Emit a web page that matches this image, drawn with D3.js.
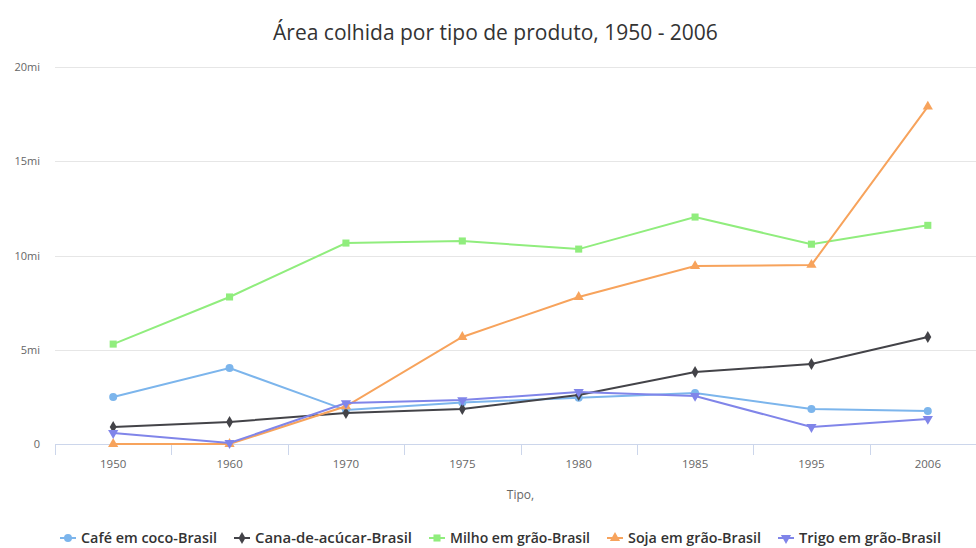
<!DOCTYPE html>
<html><head><meta charset="utf-8">
<script src="https://cdn.jsdelivr.net/npm/d3@7"></script>
<style>body{margin:0;background:#fff}svg{display:block}text{font-family:"Open Sans",sans-serif}</style>
</head><body>
<svg id="c" width="976" height="548"></svg>
<script>
const categories = ["1950","1960","1970","1975","1980","1985","1995","2006"];
const cafe  = [2.49, 4.03, 1.8, 2.2, 2.45, 2.7, 1.86, 1.75];
const cana  = [0.9, 1.17, 1.64, 1.86, 2.6, 3.82, 4.24, 5.68];
const milho = [5.3, 7.8, 10.66, 10.77, 10.34, 12.04, 10.6, 11.6];
const soja  = [0.0, 0.0, 2.0, 5.68, 7.8, 9.44, 9.5, 17.9];
const trigo = [0.58, 0.05, 2.17, 2.33, 2.76, 2.55, 0.9, 1.33];
const seriesNames = ["Café em coco-Brasil","Cana-de-acúcar-Brasil","Milho em grão-Brasil","Soja em grão-Brasil","Trigo em grão-Brasil"];
const yTicks = [0, 5, 10, 15, 20];
const yTickLabels = ["0","5mi","10mi","15mi","20mi"];

const colors = ["#7cb5ec","#434348","#90ed7d","#f7a35c","#8085e9"];
const symbols = [d3.symbolCircle, d3.symbolDiamond, d3.symbolSquare, d3.symbolTriangle, d3.symbolTriangle];
const symSizes = [50, 42, 50, 45, 45];
const rotations = [0,0,0,0,180];
const legendWidths = [136, 157, 140, 133, 142];
const series = [cafe, cana, milho, soja, trigo];

const svg = d3.select("#c");
const pLeft = 55, pRight = 986, pTop = 67, pBottom = 444;
const x = d3.scaleBand().domain(categories).range([pLeft, pRight]);
const y = d3.scaleLinear().domain([0, 20]).range([pBottom, pTop]);

svg.append("text").attr("x", 495.5).attr("y", 40).attr("text-anchor","middle")
  .attr("font-size", 21).attr("fill","#333").text("Área colhida por tipo de produto, 1950 - 2006");

// grid
svg.append("g").selectAll("line").data(yTicks.slice(1)).join("line")
  .attr("x1", pLeft).attr("x2", 976).attr("y1", d=>Math.round(y(d))+0.5).attr("y2", d=>Math.round(y(d))+0.5)
  .attr("stroke","#e6e6e6").attr("stroke-width",1);

svg.append("g").selectAll("text").data(yTicks).join("text")
  .attr("x", 40).attr("y", d=>y(d)+4).attr("text-anchor","end")
  .attr("font-size", 11).attr("fill","#666").text((d,i)=>yTickLabels[i]);

// x axis
const xa = svg.append("g").attr("transform",`translate(0,${pBottom})`)
  .call(d3.axisBottom(x).tickSize(0).tickPadding(16));
xa.select(".domain").attr("stroke","#ccd6eb");
xa.selectAll("text").attr("font-size",11.5).attr("fill","#666").attr("font-family","'Open Sans',sans-serif");
const bounds = categories.map(c=>x(c)).concat([pRight]);
svg.append("g").selectAll("line").data(bounds).join("line")
  .attr("x1",d=>Math.round(d)+0.5).attr("x2",d=>Math.round(d)+0.5).attr("y1",pBottom).attr("y2",pBottom+11)
  .attr("stroke","#ccd6eb");

svg.append("text").attr("x", (pLeft+pRight)/2).attr("y", 499).attr("text-anchor","middle")
  .attr("font-size", 12).attr("fill","#666").text("Tipo,");

const cx = c => x(c) + x.bandwidth()/2;
const line = d3.line().x((d,i)=>cx(categories[i])).y(d=>y(d));
series.forEach((s,k)=>{
  const g = svg.append("g");
  g.append("path").datum(s).attr("d", line).attr("fill","none").attr("stroke",colors[k]).attr("stroke-width",2);
  g.selectAll("path.m").data(s).join("path").attr("class","m")
    .attr("d", d3.symbol().type(symbols[k]).size(symSizes[k]))
    .attr("transform",(d,i)=>`translate(${cx(categories[i])},${y(d)}) rotate(${rotations[k]})`)
    .attr("fill",colors[k]);
});

// legend
const legend = svg.append("g");
let lx = 68;
const ly = 538;
seriesNames.forEach((n,k)=>{
  const g = legend.append("g").attr("transform",`translate(${lx},${ly})`);
  g.append("line").attr("x1",-8).attr("x2",8).attr("y1",0).attr("y2",0).attr("stroke",colors[k]).attr("stroke-width",2);
  g.append("path").attr("d", d3.symbol().type(symbols[k]).size(symSizes[k])).attr("transform",`rotate(${rotations[k]})`).attr("fill",colors[k]);
  g.append("text").attr("x",13).attr("y",5).attr("font-size",14).attr("font-weight","600").attr("fill","#333")
    .attr("textLength", legendWidths[k]).attr("lengthAdjust","spacingAndGlyphs").text(n);
  lx += 13 + legendWidths[k] + 25;
});
</script>
</body></html>
